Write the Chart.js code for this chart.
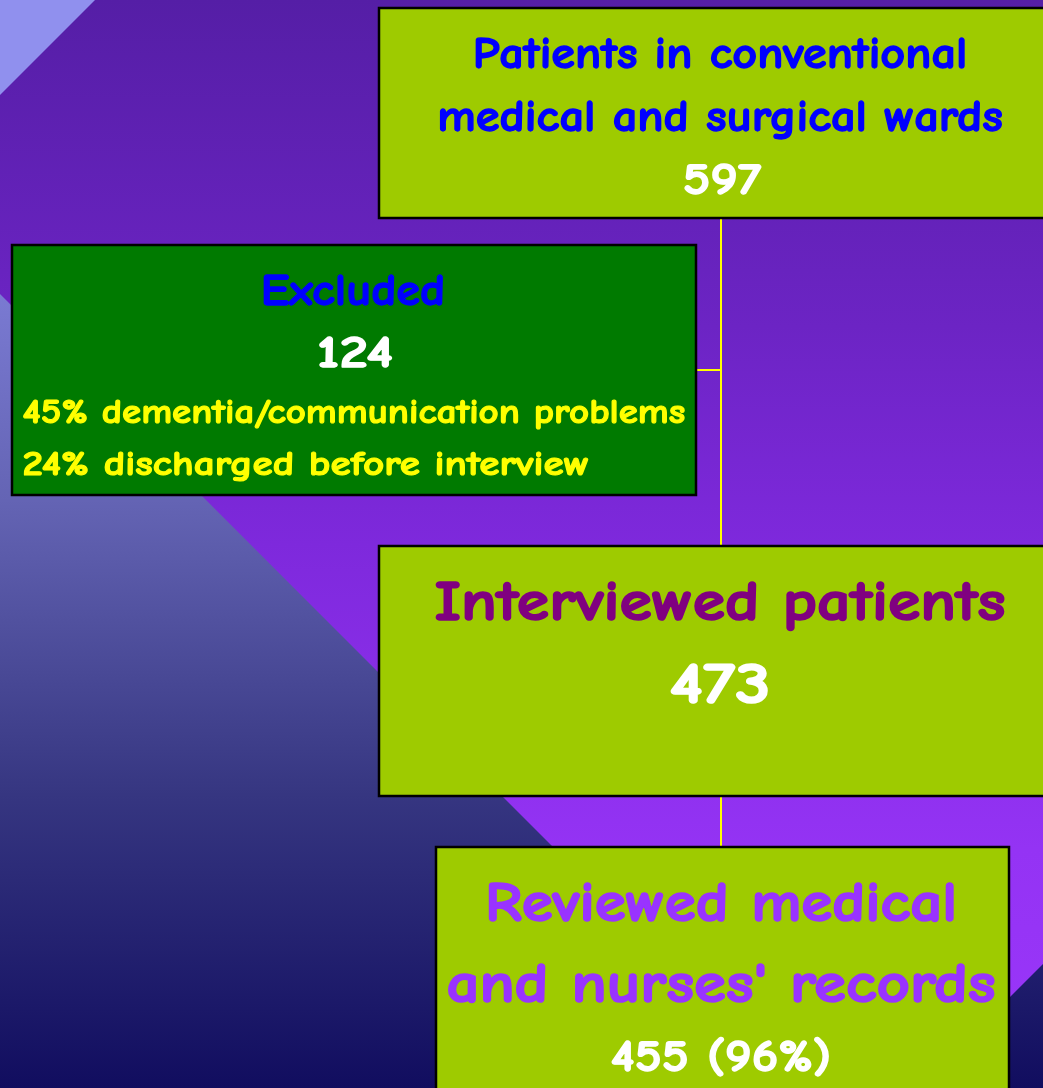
<!DOCTYPE html>
<html>
<head>
<meta charset="utf-8">
<title>Patient flow chart</title>
<script src="https://cdn.jsdelivr.net/npm/chart.js@4/dist/chart.umd.min.js"></script>
<style>
  html, body { margin: 0; padding: 0; background: #6a24c0; overflow: hidden; }
  #wrap { position: relative; width: 1043px; height: 1088px; }
  canvas { display: block; }
</style>
</head>
<body>
<div id="wrap"><canvas id="c" width="1043" height="1088"></canvas></div>
<script>
// ---------------- DATA ----------------
const stageTitles = [
  ['Patients in conventional', 'medical and surgical wards'],
  ['Excluded'],
  ['Interviewed patients'],
  ['Reviewed medical', "and nurses' records"]
];
const stageCounts = [597, 124, 473, 455];
const exclusionReasons = ['dementia/communication problems', 'discharged before interview'];
const exclusionPercents = [45, 24];
const reviewedPercent = 96;

// ---------------- LAYOUT / STYLE (not data) ----------------
const FONT = '"Comic Sans MS","Comic Neue","DejaVu Sans",sans-serif';
const W = 1043, H = 1088;
const boxLayout = [
  { x0: 379, y0: 8,   x1: 1062, y1: 218, fill: '#9ECB00' },
  { x0: 12,  y0: 245, x1: 696,  y1: 495, fill: '#007A00' },
  { x0: 379, y0: 546, x1: 1062, y1: 796, fill: '#9ECB00' },
  { x0: 436, y0: 847, x1: 1009, y1: 1110, fill: '#9ECB00' }
];
const connectorLayout = [
  [[721, 218], [721, 546]],
  [[696, 370], [721, 370]],
  [[721, 796], [721, 847]]
];

// text items built from the data arrays
const textItems = [
  { t: stageTitles[0][0], x: 720, y: 68,  s: 44, w: 496, c: '#0000FF', a: 'center', b: 1.3 },
  { t: stageTitles[0][1], x: 720, y: 131, s: 44, w: 567, c: '#0000FF', a: 'center', b: 1.3 },
  { t: String(stageCounts[0]), x: 722, y: 194, s: 44, w: 80, c: '#FFFFFF', a: 'center', b: 1.3 },
  { t: stageTitles[1][0], x: 353, y: 305, s: 44, w: 186, c: '#0000FF', a: 'center', b: 1.3 },
  { t: String(stageCounts[1]), x: 355, y: 367, s: 44, w: 78, c: '#FFFFFF', a: 'center', b: 1.3 },
  { t: exclusionPercents[0] + '% ' + exclusionReasons[0], x: 22, y: 423, s: 35, w: 664, c: '#FFFF00', a: 'left', b: 1.1 },
  { t: exclusionPercents[1] + '% ' + exclusionReasons[1], x: 22, y: 475, s: 35, w: 568, c: '#FFFF00', a: 'left', b: 1.1 },
  { t: stageTitles[2][0], x: 720, y: 620, s: 57, w: 573, c: '#800080', a: 'center', b: 1.7 },
  { t: String(stageCounts[2]), x: 720, y: 703, s: 58, w: 103, c: '#FFFFFF', a: 'center', b: 1.7 },
  { t: stageTitles[3][0], x: 721, y: 921, s: 57, w: 474, c: '#9933FF', a: 'center', b: 1.7 },
  { t: stageTitles[3][1], x: 721, y: 1002, s: 57, w: 551, c: '#9933FF', a: 'center', b: 1.7 },
  { t: stageCounts[3] + ' (' + reviewedPercent + '%)', x: 721, y: 1071, s: 44, w: 222, c: '#FFFFFF', a: 'center', b: 1.3 }
];

// ---------------- drawing plugin ----------------
const flowPlugin = {
  id: 'flow',
  beforeDraw(chart) {
    const ctx = chart.ctx;
    const xs = chart.scales.x, ys = chart.scales.y;
    const X = v => xs.getPixelForValue(v), Y = v => ys.getPixelForValue(v);
    ctx.save();
    let g = ctx.createLinearGradient(0, Y(0), 0, Y(H));
    g.addColorStop(0, '#551EA6');
    g.addColorStop(0.3, '#6C24C4');
    g.addColorStop(0.5, '#7E29DC');
    g.addColorStop(0.78, '#9433F4');
    g.addColorStop(1, '#9A36FA');
    ctx.fillStyle = g;
    ctx.fillRect(X(0), Y(0), X(W) - X(0), Y(H) - Y(0));
    ctx.fillStyle = '#9090EE';
    ctx.beginPath();
    ctx.moveTo(X(0), Y(0)); ctx.lineTo(X(95), Y(0)); ctx.lineTo(X(0), Y(95));
    ctx.closePath(); ctx.fill();
    g = ctx.createLinearGradient(0, Y(294), 0, Y(H));
    g.addColorStop(0, '#7A7AD2');
    g.addColorStop(0.26, '#6464B4');
    g.addColorStop(0.63, '#363681');
    g.addColorStop(1, '#110D5F');
    ctx.fillStyle = g;
    ctx.beginPath();
    ctx.moveTo(X(0), Y(294)); ctx.lineTo(X(794), Y(H)); ctx.lineTo(X(0), Y(H));
    ctx.closePath(); ctx.fill();
    ctx.beginPath();
    ctx.moveTo(X(W), Y(964)); ctx.lineTo(X(W), Y(H)); ctx.lineTo(X(919), Y(H));
    ctx.closePath(); ctx.fill();
    ctx.strokeStyle = '#FFFF00';
    ctx.lineWidth = 2;
    connectorLayout.forEach(seg => {
      ctx.beginPath();
      ctx.moveTo(X(seg[0][0]), Y(seg[0][1]));
      ctx.lineTo(X(seg[1][0]), Y(seg[1][1]));
      ctx.stroke();
    });
    boxLayout.forEach(b => {
      const x = X(b.x0), y = Y(b.y0), w = X(b.x1) - x, h = Y(b.y1) - y;
      ctx.fillStyle = b.fill;
      ctx.fillRect(x, y, w, h);
      ctx.strokeStyle = '#000000';
      ctx.lineWidth = 2.5;
      ctx.strokeRect(x, y, w, h);
    });
    ctx.restore();
  },
  afterDraw(chart) {
    const ctx = chart.ctx;
    const xs = chart.scales.x, ys = chart.scales.y;
    const X = v => xs.getPixelForValue(v), Y = v => ys.getPixelForValue(v);
    ctx.save();
    ctx.textBaseline = 'alphabetic';
    ctx.lineJoin = 'round';
    textItems.forEach(it => {
      ctx.font = 'bold ' + it.s + 'px ' + FONT;
      const natural = ctx.measureText(it.t).width + it.b;
      const k = it.w / natural;
      ctx.save();
      ctx.translate(X(it.x) + (it.a === 'left' ? it.b / 2 : 0), Y(it.y));
      ctx.scale(k, 1);
      ctx.fillStyle = it.c;
      ctx.strokeStyle = it.c;
      ctx.lineWidth = it.b;
      ctx.textAlign = it.a;
      ctx.strokeText(it.t, 0, 0);
      ctx.fillText(it.t, 0, 0);
      ctx.restore();
    });
    ctx.restore();
  }
};

new Chart(document.getElementById('c'), {
  type: 'scatter',
  data: { datasets: [{ data: [], pointRadius: 0 }] },
  options: {
    responsive: false,
    animation: false,
    layout: { padding: 0 },
    scales: {
      x: { type: 'linear', min: 0, max: W, display: false },
      y: { type: 'linear', min: 0, max: H, reverse: true, display: false }
    },
    plugins: { legend: { display: false }, tooltip: { enabled: false }, title: { display: false } },
    events: []
  },
  plugins: [flowPlugin]
});
</script>
</body>
</html>
